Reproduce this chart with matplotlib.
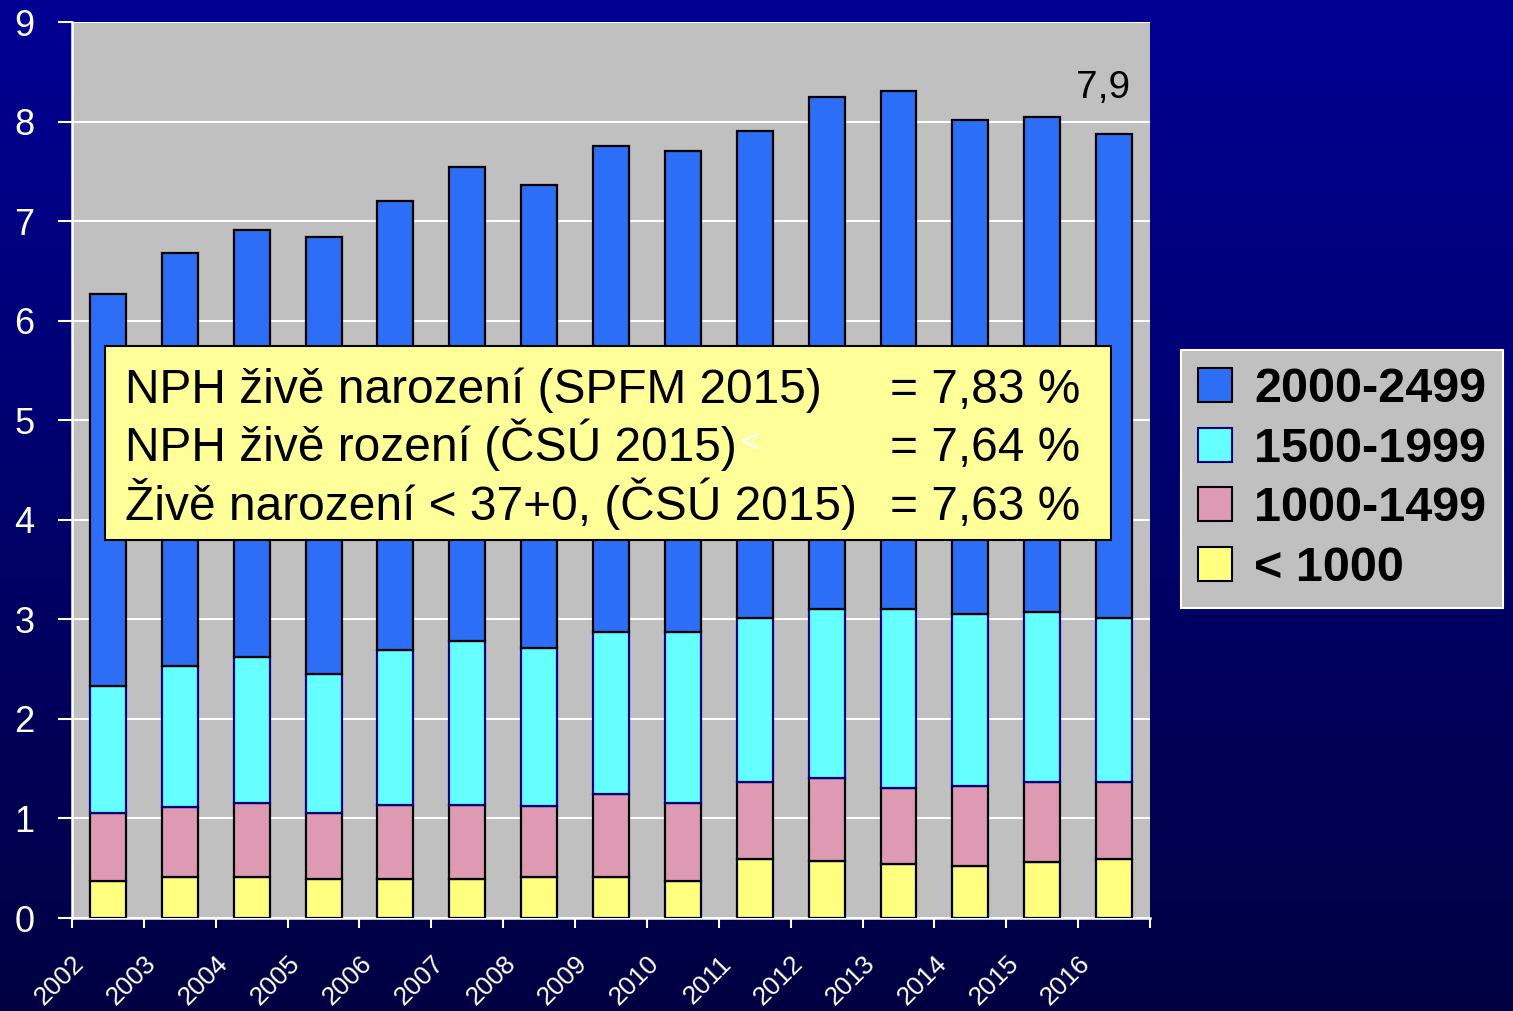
import matplotlib.pyplot as plt
import numpy as np
from matplotlib.patches import Rectangle, Patch

years = ['2002', '2003', '2004', '2005', '2006', '2007', '2008', '2009',
         '2010', '2011', '2012', '2013', '2014', '2015', '2016']
under_1000 = [0.37, 0.41, 0.41, 0.39, 0.39, 0.39, 0.41, 0.41, 0.37, 0.59, 0.57, 0.54, 0.52, 0.56, 0.59]
w1000_1499 = [0.68, 0.70, 0.75, 0.66, 0.75, 0.75, 0.71, 0.84, 0.79, 0.78, 0.84, 0.77, 0.81, 0.81, 0.78]
w1500_1999 = [1.28, 1.42, 1.46, 1.40, 1.55, 1.64, 1.59, 1.62, 1.71, 1.64, 1.69, 1.79, 1.72, 1.70, 1.64]
w2000_2499 = [3.94, 4.15, 4.29, 4.39, 4.51, 4.76, 4.65, 4.88, 4.83, 4.90, 5.15, 5.21, 4.97, 4.98, 4.87]
series_labels = ['< 1000', '1000-1499', '1500-1999', '2000-2499']
last_label = '7,9'
box_left = ['NPH živě narození (SPFM 2015)', 'NPH živě rození (ČSÚ 2015)', 'Živě narození < 37+0, (ČSÚ 2015)']
box_right = ['= 7,83 %', '= 7,64 %', '= 7,63 %']

plt.rcParams['font.family'] = ['Liberation Sans', 'DejaVu Sans']

fig = plt.figure(figsize=(15.13, 10.11), dpi=100)

# dark blue gradient background
bg = fig.add_axes([0, 0, 1, 1], zorder=-10)
grad = np.linspace(0, 1, 256).reshape(-1, 1)
top = np.array([0.0, 0.0, 0.58])
bot = np.array([0.0, 0.0, 0.26])
img = top + (bot - top) * grad[..., None]
img = np.repeat(img, 4, axis=1)
bg.imshow(img, aspect='auto', extent=[0, 1, 0, 1])
bg.set_axis_off()

W, H = 1513, 1011
ax = fig.add_axes([72 / W, (H - 918) / H, 1078 / W, 896 / H])
ax.set_facecolor('#C0C0C0')

x = np.arange(len(years))
colors = ['#FFFF80', '#DD9AB2', '#66FFFF', '#2D6EF7']
edges = ['black', 'black', '#000080', 'black']
bottom = np.zeros(len(years))
for vals, lab, c, ec in zip([under_1000, w1000_1499, w1500_1999, w2000_2499],
                            series_labels, colors, edges):
    ax.bar(x, vals, width=0.5, bottom=bottom, color=c, edgecolor=ec, linewidth=1.6,
           label=lab, zorder=3)
    bottom += np.array(vals)

ax.set_yticks(range(10))
ax.yaxis.grid(True, color='white', linewidth=1.5, zorder=0)
for s in ['top', 'right']:
    ax.spines[s].set_visible(False)
for s in ['left', 'bottom']:
    ax.spines[s].set_color('white')
    ax.spines[s].set_linewidth(1.8)
ax.tick_params(axis='y', colors='white', labelsize=26, length=10, width=1.5, pad=17)

# ticks at category edges, labels hang from the left tick of each category
ax.set_xticks(np.arange(len(years) + 1) - 0.5)
ax.set_xticklabels(years + [''], rotation=45, ha='right', rotation_mode='anchor',
                   fontsize=19, color='white')
ax.tick_params(axis='x', colors='white', length=7, width=1.5, direction='out', pad=17)
ax.set_xlim(-0.5, len(years) - 0.5)
ax.set_ylim(0, 9)

ax.text(len(years) - 1 - 0.15, bottom[-1] + 0.28, last_label, fontsize=28, ha='center', va='bottom', zorder=5)

# yellow info box
ax.add_patch(Rectangle(((105 - 72) / 1078, (918 - 540) / 896),
                       (1111 - 105) / 1078, (540 - 346) / 896, transform=ax.transAxes,
                       facecolor='#FFFF99', edgecolor='black', linewidth=1.5, zorder=6))
baselines = [403, 461, 520]
for l, r, b in zip(box_left, box_right, baselines):
    yy = (918 - b) / 896
    ax.text((125 - 72) / 1078, yy, l, transform=ax.transAxes, fontsize=34.5, va='baseline', zorder=7)
    ax.text((890 - 72) / 1078, yy, r, transform=ax.transAxes, fontsize=34.5, va='baseline', zorder=7)
ax.text((740 - 72) / 1078, (918 - 453) / 896, '<', transform=ax.transAxes, fontsize=24,
        va='baseline', color='white', zorder=7)

handles = [Patch(facecolor=c, edgecolor=ec, linewidth=1.5) for c, ec in zip(colors, edges)][::-1]
leg = fig.legend(handles, series_labels[::-1], loc='upper left',
                 bbox_to_anchor=(1181 / W, 1 - 350 / H), frameon=True, fancybox=False,
                 prop={'size': 35, 'weight': 'bold'}, handlelength=0.7, handleheight=0.7,
                 handletextpad=0.45, labelspacing=0.3, borderpad=0.35, borderaxespad=0)
leg.get_frame().set_facecolor('#C0C0C0')
leg.get_frame().set_edgecolor('white')
leg.get_frame().set_linewidth(1.5)
leg.get_frame().set_alpha(1)

fig.savefig('out.png', dpi=100)
